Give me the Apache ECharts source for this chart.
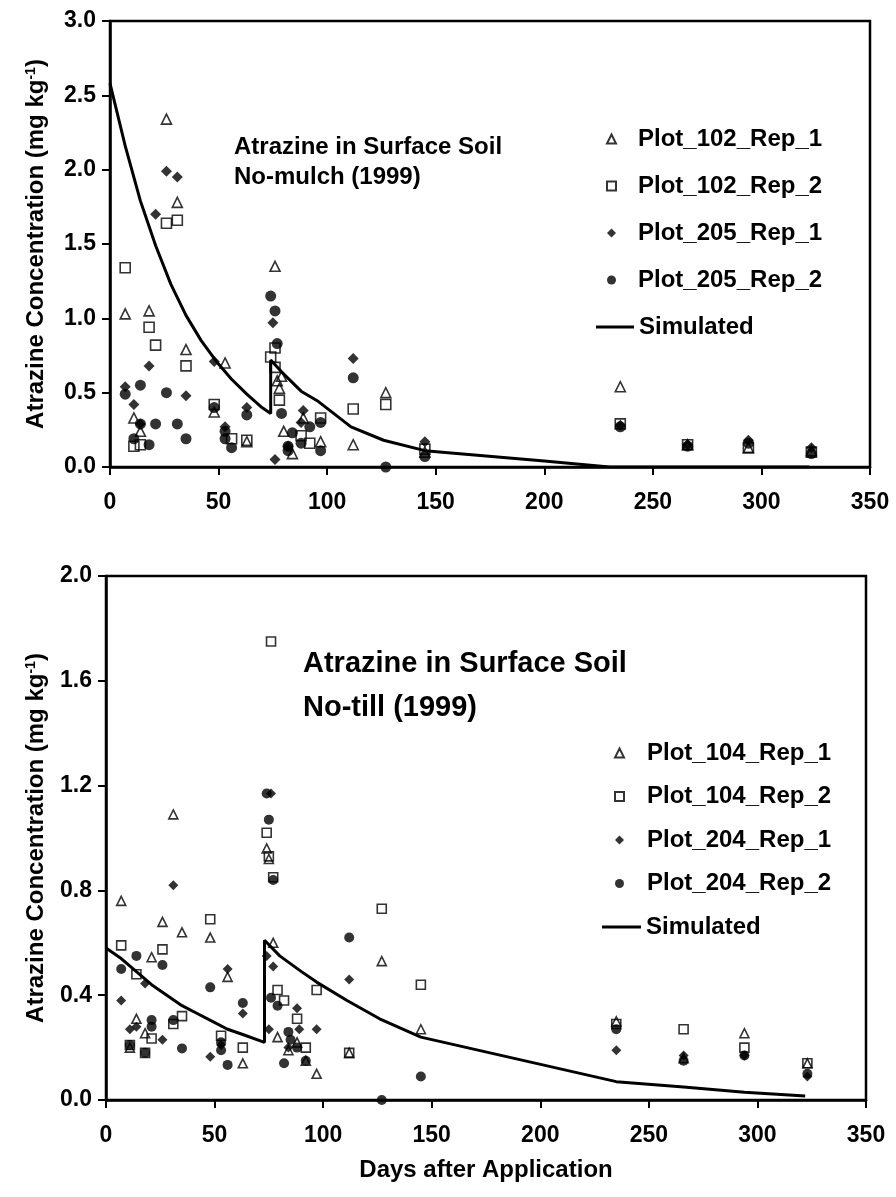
<!DOCTYPE html>
<html><head><meta charset="utf-8">
<script src="https://cdn.jsdelivr.net/npm/echarts@6/dist/echarts.min.js"></script>
<style>html,body{margin:0;padding:0;background:#fff}#c{width:896px;height:1197px}</style>
</head><body><div id="c"></div>
<script>
// ---- Top panel: No-mulch (1999) ----
const topNames = ['Plot_102_Rep_1','Plot_102_Rep_2','Plot_205_Rep_1','Plot_205_Rep_2'];
const top102r1 = [[7,1.03],[11,0.33],[14,0.24],[18,1.05],[26,2.34],[31,1.78],[35,0.79],[48,0.37],[53,0.70],[63,0.17],[76,1.35],[77,0.58],[78,0.53],[79,0.61],[80,0.24],[84,0.09],[89,0.33],[97,0.17],[112,0.15],[127,0.50],[145,0.10],[235,0.54],[266,0.15],[294,0.13],[323,0.11]];
const top102r2 = [[7,1.34],[11,0.14],[14,0.15],[18,0.94],[21,0.82],[26,1.64],[31,1.66],[35,0.68],[48,0.42],[56,0.19],[63,0.18],[74,0.74],[76,0.80],[76,0.67],[78,0.45],[88,0.21],[92,0.16],[97,0.33],[112,0.39],[127,0.42],[145,0.12],[235,0.29],[266,0.15],[294,0.13],[323,0.10]];
const top205r1 = [[7,0.54],[11,0.42],[14,0.29],[18,0.68],[21,1.70],[26,1.99],[31,1.95],[35,0.48],[48,0.71],[53,0.27],[63,0.40],[75,0.97],[76,0.05],[82,0.14],[88,0.30],[89,0.38],[112,0.73],[145,0.17],[235,0.28],[266,0.15],[294,0.18],[323,0.13]];
const top205r2 = [[7,0.49],[11,0.19],[14,0.55],[14,0.29],[18,0.15],[21,0.29],[26,0.50],[31,0.29],[35,0.19],[48,0.40],[53,0.24],[53,0.19],[56,0.13],[63,0.35],[74,1.15],[76,1.05],[77,0.83],[79,0.36],[82,0.11],[82,0.14],[84,0.23],[88,0.16],[92,0.27],[97,0.30],[97,0.11],[112,0.60],[127,0.0],[145,0.07],[235,0.27],[266,0.14],[294,0.16],[323,0.09]];
const topSim = [[0,2.58],[7,2.16],[14,1.79],[21,1.49],[28,1.23],[35,1.02],[42,0.85],[49,0.71],[56,0.59],[63,0.49],[70,0.40],[74,0.36],[74,0.72],[79,0.64],[88,0.51],[96,0.44],[111,0.27],[126,0.18],[145,0.11],[200,0.04],[230,0.0],[322,0.0]];
const topTicksY = {min:0,max:3,interval:0.5};

// ---- Bottom panel: No-till (1999) ----
const botNames = ['Plot_104_Rep_1','Plot_104_Rep_2','Plot_204_Rep_1','Plot_204_Rep_2'];
const bot104r1 = [[7,0.76],[11,0.20],[14,0.31],[18,0.255],[21,0.545],[26,0.68],[31,1.09],[35,0.64],[48,0.62],[56,0.47],[63,0.14],[74,0.96],[75,0.92],[77,0.60],[79,0.24],[84,0.19],[88,0.22],[92,0.15],[97,0.10],[112,0.18],[127,0.53],[145,0.27],[235,0.30],[266,0.16],[294,0.255],[323,0.14]];
const bot104r2 = [[7,0.59],[11,0.21],[14,0.48],[18,0.18],[21,0.235],[26,0.575],[31,0.29],[35,0.32],[48,0.69],[53,0.245],[63,0.20],[74,1.02],[75,0.93],[76,1.75],[77,0.85],[79,0.42],[82,0.38],[88,0.31],[92,0.20],[97,0.42],[112,0.18],[127,0.73],[145,0.44],[235,0.29],[266,0.27],[294,0.20],[323,0.14]];
const bot204r1 = [[7,0.38],[11,0.27],[14,0.28],[18,0.445],[26,0.23],[31,0.82],[48,0.165],[53,0.21],[56,0.50],[63,0.33],[74,0.55],[75,0.27],[76,1.17],[77,0.51],[84,0.20],[88,0.35],[89,0.27],[97,0.27],[112,0.46],[235,0.19],[266,0.17],[294,0.17],[323,0.09]];
const bot204r2 = [[7,0.50],[11,0.21],[14,0.55],[18,0.18],[21,0.305],[21,0.28],[26,0.515],[31,0.305],[35,0.197],[48,0.43],[53,0.22],[53,0.19],[56,0.134],[63,0.37],[74,1.17],[75,1.07],[77,0.84],[76,0.39],[79,0.36],[82,0.14],[84,0.26],[85,0.23],[88,0.20],[92,0.15],[112,0.62],[127,0.0],[145,0.09],[235,0.27],[266,0.15],[294,0.17],[323,0.10]];
const botSim = [[0,0.58],[7,0.54],[14,0.49],[21,0.44],[28,0.40],[35,0.36],[42,0.33],[49,0.30],[56,0.27],[63,0.25],[73,0.22],[73,0.61],[80,0.55],[90,0.49],[97,0.45],[111,0.38],[126,0.31],[145,0.24],[235,0.07],[266,0.05],[294,0.03],[322,0.015]];
const botTicksY = {min:0,max:2,interval:0.4};

const xTicks = {min:0,max:350,interval:50};
const xName = 'Days after Application';
const yNameRich = '{a|Atrazine Concentration (mg kg}{s|-1}{a|)}';

const FONT = '"Liberation Sans", Arial, Helvetica, sans-serif';
const black = '#000';
const chart = echarts.init(document.getElementById('c'), null, {renderer:'canvas'});

function xAxis(gridIndex, showName){
  return {type:'value', gridIndex, min:xTicks.min, max:xTicks.max, interval:xTicks.interval,
    name: showName ? xName : '', nameLocation:'middle', nameGap:58,
    nameTextStyle:{fontFamily:FONT,fontWeight:'bold',fontSize:24,color:black},
    axisLine:{show:true,onZero:false,lineStyle:{color:black,width:2.5}},
    axisTick:{show:true,inside:false,length:8,lineStyle:{color:black,width:2}},
    axisLabel:{fontFamily:FONT,fontWeight:'bold',fontSize:23,color:black,margin:24},
    splitLine:{show:false}};
}
function yAxis(gridIndex, t, gap){
  return {type:'value', gridIndex, min:t.min, max:t.max, interval:t.interval,
    name: yNameRich, nameLocation:'middle', nameGap:gap, nameRotate:90,
    nameTextStyle:{rich:{
      a:{fontFamily:FONT,fontWeight:'bold',fontSize:24,color:black},
      s:{fontFamily:FONT,fontWeight:'bold',fontSize:14,color:black,verticalAlign:'top',padding:[0,0,10,0]}}},
    axisLine:{show:true,onZero:false,lineStyle:{color:black,width:2.5}},
    axisTick:{show:true,inside:false,length:8,lineStyle:{color:black,width:2}},
    axisLabel:{fontFamily:FONT,fontWeight:'bold',fontSize:23,color:black,margin:14,formatter:v=>v.toFixed(1)},
    splitLine:{show:false}};
}
const openStyle = {color:'rgba(255,255,255,0)',borderColor:black,borderWidth:1.6};
const fillStyle = {color:black,borderColor:black,borderWidth:0};
function scat(name, data, idx, symbol, size, open){
  return {type:'scatter', name, data, xAxisIndex:idx, yAxisIndex:idx, symbol, symbolSize:size,
    itemStyle: open?openStyle:fillStyle, z:3, emphasis:{disabled:true}};
}
function sim(data, idx){
  return {type:'line', name:'Simulated', data, xAxisIndex:idx, yAxisIndex:idx, symbol:'none', showSymbol:false,
    lineStyle:{color:black,width:3}, itemStyle:{color:black}, z:2, emphasis:{disabled:true}};
}
function legText(padLeft){
  return {fontFamily:FONT,fontWeight:'bold',fontSize:24,lineHeight:24,color:black,padding:[0,0,0,padLeft]};
}
function symLegend(names, left, top, gap, padLeft){
  return {data:names.map(n=>({name:n})), orient:'vertical', left, top, itemWidth:9, itemHeight:9, itemGap:gap,
    textStyle:legText(padLeft), selectedMode:false, symbolKeepAspect:true};
}
function simLegend(left, top, w){
  return {data:[{name:'Simulated', icon:'rect'}], orient:'vertical', left, top, itemWidth:w, itemHeight:3,
    textStyle:legText(0), selectedMode:false};
}

chart.setOption({
  animation:false,
  backgroundColor:'#fff',
  title:[
    {text:'Atrazine in Surface Soil\nNo-mulch (1999)', left:229, top:127,
     textStyle:{fontFamily:FONT,fontWeight:'bold',fontSize:24,lineHeight:30,color:black}},
    {text:'Atrazine in Surface Soil\nNo-till (1999)', left:298, top:637,
     textStyle:{fontFamily:FONT,fontWeight:'bold',fontSize:29,lineHeight:44,color:black}}
  ],
  legend:[
    symLegend(topNames, 601, 122, 23, 17),
    simLegend(591, 122+4*47, 38),
    symLegend(botNames, 609, 736, 19.5, 18),
    simLegend(597, 736+4*43.5, 39)
  ],
  grid:[
    {left:110, top:21, width:760, height:446, show:true, borderColor:black, borderWidth:2.5, backgroundColor:'transparent'},
    {left:106, top:576, width:760, height:524, show:true, borderColor:black, borderWidth:2.5, backgroundColor:'transparent'}
  ],
  xAxis:[xAxis(0,false), xAxis(1,true)],
  yAxis:[yAxis(0,topTicksY,62), yAxis(1,botTicksY,58)],
  series:[
    scat(topNames[0], top102r1, 0, 'triangle', 10, true),
    scat(topNames[1], top102r2, 0, 'rect', 10, true),
    scat(topNames[2], top205r1, 0, 'diamond', 11, false),
    scat(topNames[3], top205r2, 0, 'circle', 11, false),
    sim(topSim, 0),
    scat(botNames[0], bot104r1, 1, 'triangle', 9, true),
    scat(botNames[1], bot104r2, 1, 'rect', 9, true),
    scat(botNames[2], bot204r1, 1, 'diamond', 10, false),
    scat(botNames[3], bot204r2, 1, 'circle', 10, false),
    sim(botSim, 1)
  ]
});
</script></body></html>
